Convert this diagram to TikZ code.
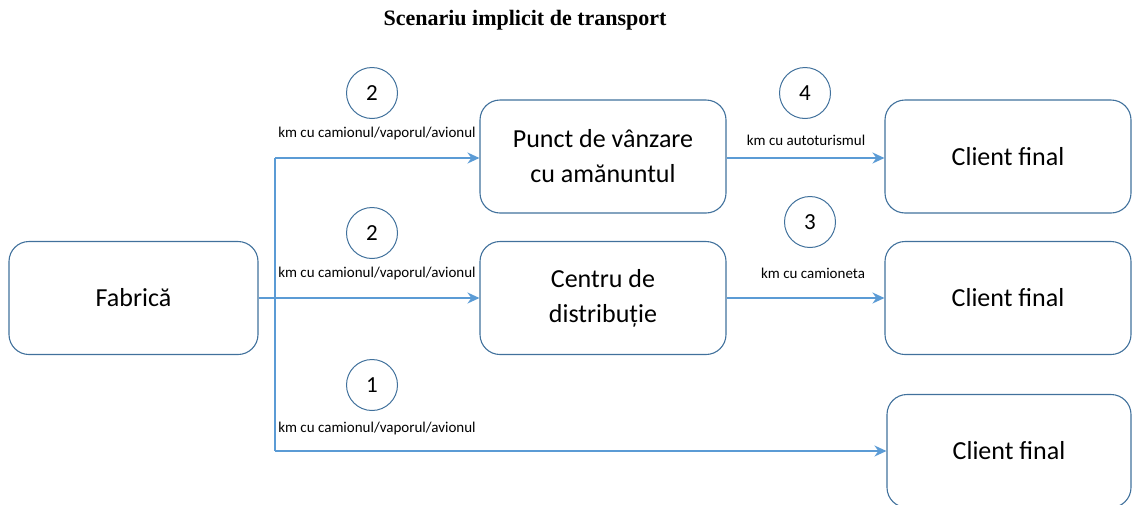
\documentclass[tikz,border=0pt]{standalone}
\usepackage{fontspec}
\setmainfont{Carlito}
\newfontfamily\titlefont{Liberation Serif}
\usetikzlibrary{arrows.meta}
\definecolor{boxc}{HTML}{41719C}
\definecolor{arrc}{HTML}{5B9BD5}
\begin{document}
\begin{tikzpicture}[x=1pt,y=-1pt,
  box/.style={draw=boxc,line width=1.1pt,rounded corners=20pt,minimum width=246pt,minimum height=113pt,align=center,font=\fontsize{26}{35}\selectfont,inner sep=0pt},
  num/.style={draw=boxc,line width=1pt,circle,minimum size=51pt,inner sep=0pt,font=\fontsize{23}{26}\selectfont},
  lbl/.style={font=\fontsize{15}{18}\selectfont,inner sep=0pt},
  arr/.style={draw=arrc,line width=1.8pt,-{Stealth[length=12pt,width=11pt]}},
  ln/.style={draw=arrc,line width=1.8pt}]
\useasboundingbox (0,0) rectangle (1133,504);
\node[font=\titlefont\bfseries\fontsize{22}{26}\selectfont] (title) at (525,20) {Scenariu implicit de transport};
\node[box,minimum width=249pt] (fab) at (133.5,298) {Fabrică};
\node[box] (punct) at (603,156.5) {Punct de vânzare\\cu amănuntul};
\node[box] (centru) at (603,298) {Centru de\\distribuție};
\node[box] (c1) at (1008,156.5) {Client final};
\node[box] (c2) at (1008,298) {Client final};
\node[box,minimum width=244pt] (c3) at (1009,451) {Client final};
\node[num] (n2a) at (372,93) {2};
\node[num] (n4) at (805,93) {4};
\node[num] (n2b) at (372,233) {2};
\node[num] (n3) at (810,222) {3};
\node[num] (n1) at (372,385) {1};
\node[lbl] (l1) at (377,133) {km cu camionul/vaporul/avionul};
\node[lbl] (l2) at (377,273) {km cu camionul/vaporul/avionul};
\node[lbl] (l3) at (377,428) {km cu camionul/vaporul/avionul};
\node[lbl] (l4) at (806,140) {km cu autoturismul};
\node[lbl] (l5) at (813,273) {km cu camioneta};
\coordinate (vt) at (275,158);
\coordinate (vb) at (275,451);
\draw[ln] (vt) -- (vb);
\draw[arr] (vt) -- (punct.west |- vt);
\draw[arr] (fab.east) -- (centru.west);
\draw[arr] (vb) -- (c3.west |- vb);
\draw[arr] (punct.east |- vt) -- (c1.west |- vt);
\draw[arr] (centru.east) -- (c2.west);
\end{tikzpicture}
\end{document}
